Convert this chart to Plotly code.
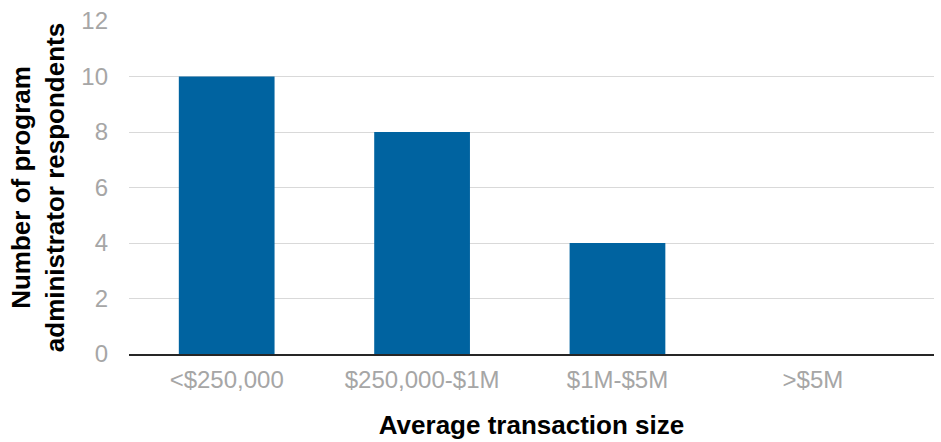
import plotly.graph_objects as go

categories = ["<$250,000", "$250,000-$1M", "$1M-$5M", ">$5M"]
respondents = [10, 8, 4, 0]
y_ticks = [0, 2, 4, 6, 8, 10, 12]

fig = go.Figure(go.Bar(
    x=categories, y=respondents,
    marker=dict(color="#0063a0", line=dict(width=0)),
    width=0.49,
))

fig.update_layout(
    width=941, height=442,
    margin=dict(l=129, r=7, t=19, b=86),
    plot_bgcolor="white", paper_bgcolor="white",
    font=dict(family="Liberation Sans, Arial, sans-serif"),
    showlegend=False,
)
fig.update_xaxes(
    title=dict(text="<b>Average transaction size</b>", font=dict(size=26, color="black"), standoff=24),
    tickfont=dict(size=24, color="#a6a6a6"),
    range=[-0.5, 3.62],
    showline=True, linecolor="#262626", linewidth=1.5,
    showgrid=False, ticks="", ticklabelstandoff=3,
)
fig.update_yaxes(
    title=dict(text="<b>Number of program<br>administrator respondents</b>", font=dict(size=26, color="black"), standoff=9),
    tickfont=dict(size=24, color="#a6a6a6"),
    range=[0, 12], tickvals=y_ticks,
    showgrid=True, gridcolor="#d9d9d9", gridwidth=1,
    zeroline=False, ticks="", ticklen=0, ticklabelstandoff=20,
)

fig.write_html("out.html")
